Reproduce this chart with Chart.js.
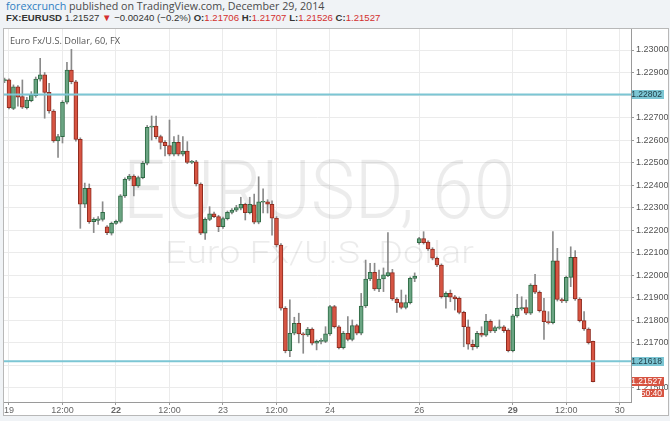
<!DOCTYPE html>
<html>
<head>
<meta charset="utf-8">
<script src="https://cdn.jsdelivr.net/npm/chart.js@4.4.1/dist/chart.umd.min.js"></script>
<style>
  body { margin: 0; width: 670px; height: 421px; overflow: hidden; position: relative; background: #f0f3f6; font-family: "Open Sans", sans-serif; }
  #line1 { position: absolute; left: 6px; top: -1px; font-size: 10.7px; color: #4a4a4a; white-space: nowrap; }
  #line1 .who { color: #2f7fc3; }
  #line2 { position: absolute; left: 6px; top: 12px; font-size: 9.6px; color: #333; white-space: nowrap; font-family: "Liberation Sans", Arial, sans-serif; }
  #line2 b { color: #333; }
  #line2 .red { color: #d32f2f; }
  #frame { position: absolute; left: 3px; top: 28px; width: 664px; height: 386px; border: 1px solid #b8b8b8; background: #fff; }
  #legend { position: absolute; left: 10px; top: 34px; font: 9.2px "Open Sans", sans-serif; color: #555; }
</style>
</head>
<body>
<div id="line1"><span class="who">forexcrunch</span> published on TradingView.com, December 29, 2014</div>
<div id="line2"><b>FX:EURUSD</b> 1.21527 <span class="red">▼</span> −0.00240 (−0.2%) <b>O:</b><span class="red">1.21706</span> <b>H:</b><span class="red">1.21707</span> <b>L:</b><span class="red">1.21526</span> <b>C:</b><span class="red">1.21527</span></div>
<div id="frame"><canvas id="chart" width="664" height="386"></canvas></div>
<div id="legend">Euro Fx/U.S. Dollar, 60, FX</div>
<script>
// hourly EURUSD bars, first one sits just left of Dec 19 00:00
const firstBar = -1;
const open = [
  1.22864, 1.22867, 1.22741, 1.22837, 1.22793, 1.22744, 1.22775, 1.22797, 1.22870, 1.22890,
  1.22812, 1.22729, 1.22596, 1.22615, 1.22768, 1.22911, 1.22859, 1.22603, 1.22315, 1.22386,
  1.22237, 1.22243, 1.22248, 1.22215, 1.22186, 1.22230, 1.22239, 1.22352, 1.22426, 1.22440,
  1.22396, 1.22433, 1.22497, 1.22657, 1.22662, 1.22615, 1.22590, 1.22575, 1.22537, 1.22590,
  1.22537, 1.22551, 1.22501, 1.22503, 1.22405, 1.22186, 1.22248, 1.22272, 1.22260, 1.22215,
  1.22251, 1.22279, 1.22289, 1.22297, 1.22315, 1.22278, 1.22312, 1.22235, 1.22324, 1.22326,
  1.22315, 1.22253, 1.22134, 1.21853, 1.21665, 1.21742, 1.21786, 1.21739, 1.21734, 1.21760,
  1.21698, 1.21706, 1.21706, 1.21739, 1.21860, 1.21771, 1.21678, 1.21742, 1.21715, 1.21776,
  1.21742, 1.21863, 1.21983, 1.22013, 1.21939, 1.21983, 1.21998, 1.22011, 1.21894, 1.21878,
  1.21857, 1.21878, 1.21986, 1.22144, 1.22162, 1.22147, 1.22116, 1.22075, 1.22045, 1.21904,
  1.21919, 1.21904, 1.21897, 1.21835, 1.21771, 1.21693, 1.21682, 1.21742, 1.21733, 1.21795,
  1.21752, 1.21765, 1.21770, 1.21756, 1.21665, 1.21819, 1.21850, 1.21856, 1.21831, 1.21956,
  1.21924, 1.21841, 1.21793, 1.21789, 1.22064, 1.21892, 1.21885, 1.21990, 1.22079, 1.21894,
  1.21798, 1.21761, 1.21706
];
const high = [
  1.22875, 1.22872, 1.22845, 1.22842, 1.22867, 1.22790, 1.22815, 1.22880, 1.22963, 1.22900,
  1.22852, 1.22735, 1.22625, 1.22775, 1.22945, 1.23003, 1.22865, 1.22610, 1.22409, 1.22405,
  1.22255, 1.22260, 1.22326, 1.22220, 1.22236, 1.22245, 1.22358, 1.22432, 1.22448, 1.22446,
  1.22440, 1.22505, 1.22665, 1.22707, 1.22707, 1.22622, 1.22598, 1.22689, 1.22615, 1.22622,
  1.22615, 1.22593, 1.22510, 1.22510, 1.22410, 1.22255, 1.22304, 1.22280, 1.22266, 1.22258,
  1.22285, 1.22296, 1.22310, 1.22346, 1.22320, 1.22346, 1.22360, 1.22437, 1.22383, 1.22335,
  1.22330, 1.22260, 1.22140, 1.21860, 1.21890, 1.21813, 1.21831, 1.21745, 1.21768, 1.21766,
  1.21712, 1.21718, 1.21771, 1.21866, 1.21866, 1.21776, 1.21750, 1.21816, 1.21801, 1.21782,
  1.21919, 1.22067, 1.22053, 1.22053, 1.22023, 1.22032, 1.22189, 1.22026, 1.21900, 1.21934,
  1.21912, 1.21992, 1.22010, 1.22168, 1.22193, 1.22152, 1.22122, 1.22080, 1.22050, 1.21926,
  1.21934, 1.21910, 1.21903, 1.21840, 1.21801, 1.21712, 1.21750, 1.21771, 1.21826, 1.21802,
  1.21774, 1.21801, 1.21776, 1.21762, 1.21826, 1.21915, 1.21904, 1.21890, 1.21962, 1.22004,
  1.21930, 1.21897, 1.21838, 1.22193, 1.22119, 1.21898, 1.21996, 1.22126, 1.22109, 1.21900,
  1.21838, 1.21766, 1.21707
];
const low = [
  1.22855, 1.22738, 1.22735, 1.22750, 1.22740, 1.22738, 1.22770, 1.22790, 1.22862, 1.22697,
  1.22720, 1.22590, 1.22523, 1.22587, 1.22760, 1.22850, 1.22595, 1.22208, 1.22300, 1.22230,
  1.22189, 1.22225, 1.22240, 1.22180, 1.22178, 1.22225, 1.22232, 1.22345, 1.22420, 1.22352,
  1.22390, 1.22428, 1.22490, 1.22600, 1.22605, 1.22560, 1.22530, 1.22530, 1.22530, 1.22530,
  1.22530, 1.22495, 1.22495, 1.22396, 1.22180, 1.22159, 1.22242, 1.22255, 1.22193, 1.22208,
  1.22245, 1.22272, 1.22282, 1.22290, 1.22245, 1.22272, 1.22228, 1.22228, 1.22276, 1.22276,
  1.22178, 1.22125, 1.21845, 1.21655, 1.21638, 1.21735, 1.21699, 1.21653, 1.21728, 1.21690,
  1.21668, 1.21695, 1.21700, 1.21732, 1.21765, 1.21672, 1.21672, 1.21708, 1.21708, 1.21735,
  1.21735, 1.21856, 1.21976, 1.21932, 1.21927, 1.21927, 1.21993, 1.21888, 1.21835, 1.21850,
  1.21850, 1.21872, 1.21971, 1.22138, 1.22138, 1.22110, 1.22068, 1.22038, 1.21898, 1.21853,
  1.21882, 1.21845, 1.21828, 1.21682, 1.21671, 1.21668, 1.21676, 1.21726, 1.21728, 1.21745,
  1.21745, 1.21760, 1.21746, 1.21659, 1.21659, 1.21813, 1.21844, 1.21825, 1.21825, 1.21918,
  1.21836, 1.21715, 1.21783, 1.21783, 1.21885, 1.21878, 1.21878, 1.21949, 1.21888, 1.21792,
  1.21755, 1.21694, 1.21526
];
const close = [
  1.22866, 1.22744, 1.22837, 1.22790, 1.22746, 1.22778, 1.22800, 1.22871, 1.22890, 1.22812,
  1.22729, 1.22596, 1.22615, 1.22768, 1.22911, 1.22859, 1.22603, 1.22315, 1.22386, 1.22237,
  1.22248, 1.22250, 1.22279, 1.22189, 1.22230, 1.22239, 1.22352, 1.22426, 1.22440, 1.22396,
  1.22433, 1.22497, 1.22657, 1.22662, 1.22615, 1.22590, 1.22575, 1.22537, 1.22590, 1.22537,
  1.22551, 1.22501, 1.22503, 1.22405, 1.22186, 1.22248, 1.22272, 1.22260, 1.22215, 1.22251,
  1.22279, 1.22289, 1.22300, 1.22315, 1.22278, 1.22315, 1.22235, 1.22326, 1.22326, 1.22315,
  1.22253, 1.22134, 1.21853, 1.21665, 1.21742, 1.21786, 1.21739, 1.21734, 1.21760, 1.21698,
  1.21706, 1.21710, 1.21739, 1.21860, 1.21771, 1.21678, 1.21742, 1.21715, 1.21776, 1.21742,
  1.21863, 1.21983, 1.22013, 1.21939, 1.21983, 1.22001, 1.22011, 1.21894, 1.21878, 1.21857,
  1.21878, 1.21986, 1.21996, 1.22162, 1.22144, 1.22116, 1.22075, 1.22045, 1.21904, 1.21919,
  1.21902, 1.21894, 1.21835, 1.21771, 1.21693, 1.21682, 1.21742, 1.21733, 1.21795, 1.21752,
  1.21767, 1.21770, 1.21753, 1.21665, 1.21819, 1.21853, 1.21856, 1.21831, 1.21956, 1.21924,
  1.21842, 1.21793, 1.21789, 1.22064, 1.21892, 1.21885, 1.21990, 1.22079, 1.21894, 1.21798,
  1.21761, 1.21700, 1.21527
];

// time axis: bar index where each label sits
const timeTicks = [0, 12, 24, 36, 48, 60, 72, 92, 113, 125, 137];
const timeLabels = ["19", "12:00", "22", "12:00", "23", "12:00", "24", "26", "29", "12:00", "30"];
const boldLabels = ["22", "29"];

// horizontal levels drawn on the chart
const levels = [1.22802, 1.21618];
const lastPrice = 1.21527;
const countdown = "50:40";

const X_MIN = -1.12, X_MAX = 139.52;
const Y_MIN = 1.214366, Y_MAX = 1.230933;

const UP = "#6ba583", UP_EDGE = "#2f6b45";
const DOWN = "#d75442", DOWN_EDGE = "#8f2c20";

const pos = open.map((_, k) => firstBar + k);
const isUp = open.map((o, k) => close[k] >= o);

const watermark = {
  id: "watermark",
  beforeDatasetsDraw(chart) {
    const c = chart.ctx;
    c.save();
    c.fillStyle = "rgba(0,0,0,0.075)";
    c.textBaseline = "alphabetic";
    fitText(c, "EURUSD, 60", 119, 189, 392, "300 81px Roboto, sans-serif");
    fitText(c, "Euro Fx/U.S. Dollar", 161, 234, 309, "300 32px Roboto, sans-serif");
    c.restore();
  },
};

function fitText(c, text, x, y, width, font) {
  c.font = font;
  const w = c.measureText(text).width;
  c.save();
  c.translate(x, y);
  c.scale(width / w, 1);
  c.fillText(text, 0, 0);
  c.restore();
}

function tag(c, x, yMid, w, h, bg, fg, text) {
  const top = Math.round(yMid - h / 2);
  c.fillStyle = bg;
  c.fillRect(x, top, w, h);
  c.fillStyle = fg;
  c.textAlign = "right";
  c.textBaseline = "middle";
  c.fillText(text, x + w - 2, top + h / 2 + 0.5);
}

const priceTags = {
  id: "priceTags",
  afterDraw(chart) {
    const c = chart.ctx;
    const y = chart.scales.y;
    const left = chart.chartArea.right + 1;
    c.save();
    c.font = "8.5px 'Liberation Sans', Arial, sans-serif";
    levels.forEach((v) => tag(c, left, y.getPixelForValue(v), 32, 9, "#7cc6d4", "#1d3a44", v.toFixed(5)));
    const yl = y.getPixelForValue(lastPrice);
    tag(c, left, yl, 32, 9, DOWN, "#fff", lastPrice.toFixed(5));
    tag(c, left + 10, yl + 11, 22, 8, DOWN, "#fff", countdown);
    c.restore();
  },
};

// axis labels that sit under a level tag are left out, as on the original
const hiddenByTag = (v) => levels.some((l) => Math.abs(l - v) < 0.0002);

new Chart(document.getElementById("chart"), {
  type: "bar",
  data: {
    datasets: [
      ...levels.map((v) => ({
        type: "line",
        data: [{ x: X_MIN, y: v }, { x: X_MAX, y: v }],
        borderColor: "#7cc6d4",
        borderWidth: 2,
        pointRadius: 0,
      })),
      {
        label: "body",
        data: pos.map((x, k) => ({ x, y: [open[k], close[k]] })),
        backgroundColor: isUp.map((u) => (u ? UP : DOWN)),
        borderColor: isUp.map((u) => (u ? UP_EDGE : DOWN_EDGE)),
        borderWidth: 1,
        borderSkipped: false,
        barThickness: 4,
        minBarLength: 1,
        grouped: false,
      },
      {
        label: "wick",
        data: pos.map((x, k) => ({ x, y: [low[k], high[k]] })),
        backgroundColor: "#8a8a8a",
        barThickness: 1,
        grouped: false,
      },
    ],
  },
  options: {
    responsive: false,
    animation: false,
    layout: { padding: 0 },
    plugins: { legend: { display: false }, tooltip: { enabled: false } },
    scales: {
      x: {
        type: "linear",
        offset: false,
        min: X_MIN,
        max: X_MAX,
        afterBuildTicks: (s) => { s.ticks = timeTicks.map((v) => ({ value: v })); },
        afterFit: (s) => { s.height = 13; s.paddingLeft = 0; s.paddingRight = 0; },
        grid: { offset: false, color: "#ebebeb", tickLength: 3, tickColor: "#999" },
        border: { color: "#9a9a9a" },
        ticks: {
          autoSkip: false,
          maxRotation: 0,
          padding: 0,
          color: "#666",
          font: (ctx) => ({ family: "'Liberation Sans', Arial, sans-serif", size: 9, weight: ctx.tick && boldLabels.includes(ctx.tick.label) ? "bold" : "normal" }),
          callback: (v) => timeLabels[timeTicks.indexOf(v)],
        },
      },
      y: {
        position: "right",
        min: Y_MIN,
        max: Y_MAX,
        afterFit: (s) => { s.width = 37; s.paddingTop = 0; s.paddingBottom = 0; },
        grid: { color: "#ebebeb", tickLength: 3, tickColor: "#999" },
        border: { color: "#9a9a9a" },
        ticks: {
          stepSize: 0.001,
          includeBounds: false,
          padding: 2,
          color: "#555",
          font: { family: "'Liberation Sans', Arial, sans-serif", size: 9 },
          callback: (v) => (hiddenByTag(v) ? "" : v.toFixed(5)),
        },
      },
    },
  },
  plugins: [watermark, priceTags],
});
</script>
</body>
</html>
